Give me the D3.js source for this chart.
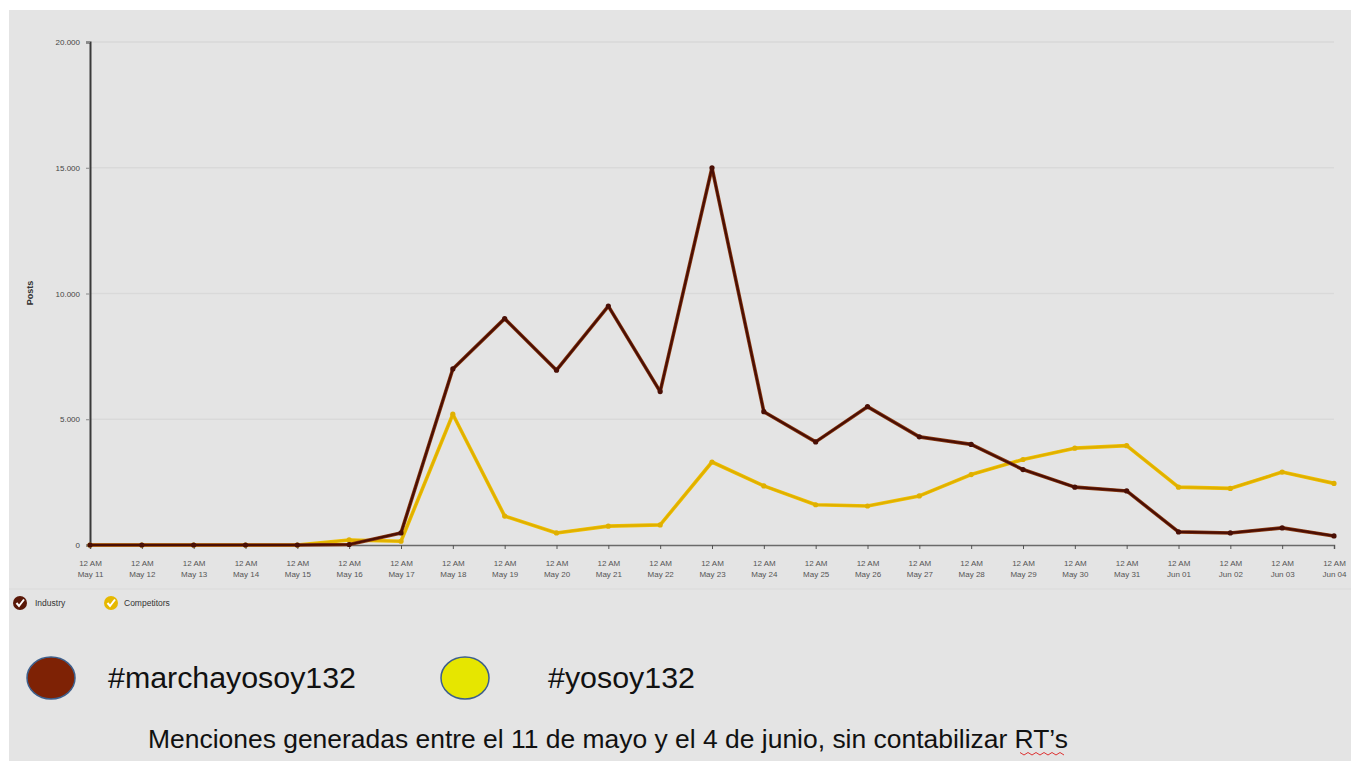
<!DOCTYPE html>
<html><head><meta charset="utf-8">
<script src="https://cdn.jsdelivr.net/npm/d3@7"></script>
<style>body{margin:0;background:#fff}svg{display:block}</style>
</head><body><svg id="c" width="1351" height="761"></svg>
<script>
const days = ["May 11","May 12","May 13","May 14","May 15","May 16","May 17","May 18","May 19","May 20","May 21","May 22","May 23","May 24","May 25","May 26","May 27","May 28","May 29","May 30","May 31","Jun 01","Jun 02","Jun 03","Jun 04"];
const industry = [0,0,0,0,0,20,480,7000,9000,6950,9500,6100,15000,5300,4100,5500,4300,4000,3000,2300,2150,520,480,680,360];
const competitors = [0,0,0,0,0,200,150,5200,1150,480,750,800,3300,2350,1600,1550,1950,2800,3400,3850,3950,2300,2250,2900,2450];
const yTicks = [0,5000,10000,15000,20000];
const yTickLabels = ["0","5.000","10.000","15.000","20.000"];
const seriesNames = ["Industry","Competitors"];
const bigLegend = ["#marchayosoy132","#yosoy132"];
const caption = "Menciones generadas entre el 11 de mayo y el 4 de junio, sin contabilizar ";

const svg = d3.select("#c");
svg.append("rect").attr("x",9).attr("y",10).attr("width",1342).attr("height",751).attr("fill","#e4e4e4");

const x = d3.scalePoint().domain(days).range([90,1334]);
const y = d3.scaleLinear().domain([0,20000]).range([545,42]);

// grid
svg.append("g").selectAll("line").data(yTicks.slice(1)).join("line")
  .attr("x1",90).attr("x2",1334).attr("y1",d=>y(d)).attr("y2",d=>y(d))
  .attr("stroke","#d9d9d9").attr("stroke-width",1.5);

// y axis
const ya = svg.append("g").attr("transform","translate(90,0)")
  .call(d3.axisLeft(y).tickValues(yTicks).tickFormat((d,i)=>yTickLabels[i]).tickSize(4).tickPadding(6));
ya.select(".domain").attr("stroke","#3a3a3a").attr("stroke-width",2);
ya.selectAll(".tick line").attr("stroke","#888");
ya.selectAll("text").attr("font-family","Liberation Sans, Arial").attr("font-size",8).attr("fill","#444");

svg.append("text").attr("transform","translate(33,293) rotate(-90)").attr("text-anchor","middle")
  .attr("font-family","Liberation Sans, Arial").attr("font-size",9).attr("font-weight","bold").attr("fill","#333").text("Posts");

// x axis
const xa = svg.append("g").attr("transform","translate(0,545)")
  .call(d3.axisBottom(x).tickSize(4).tickFormat(""));
xa.select(".domain").attr("stroke","#6a6a6a").attr("stroke-width",1.5);
xa.selectAll(".tick line").attr("stroke","#555");
const xl = xa.selectAll(".tick").append("text").attr("font-family","Liberation Sans, Arial").attr("font-size",8)
  .attr("fill","#555").attr("text-anchor","middle");
xl.append("tspan").attr("x",0).attr("y",21).text("12 AM");
xl.append("tspan").attr("x",0).attr("y",32).text(d=>d);

// separator
svg.append("line").attr("x1",9).attr("x2",1351).attr("y1",589).attr("y2",589).attr("stroke","#dedede").attr("stroke-width",1.5);

const line = d3.line().x((d,i)=>x(days[i])).y(d=>y(d));
function drawSeries(data, glow, core){
  svg.append("path").datum(data).attr("d",line).attr("fill","none").attr("stroke",glow).attr("stroke-width",3.6).attr("stroke-linejoin","round");
  svg.append("path").datum(data).attr("d",line).attr("fill","none").attr("stroke",core).attr("stroke-width",2.2).attr("stroke-linejoin","round");
  svg.append("g").selectAll("circle").data(data).join("circle")
    .attr("cx",(d,i)=>x(days[i])).attr("cy",d=>y(d)).attr("r",2.6).attr("fill",core);
}
drawSeries(competitors,"#f0c000","#e0b000");
drawSeries(industry,"#8a3a10","#4a0f05");

// small legend
const sl = [{cx:20,fill:"#5a1808",tx:35},{cx:111,fill:"#e6b800",tx:124}];
sl.forEach((s,i)=>{
  svg.append("circle").attr("cx",s.cx).attr("cy",603).attr("r",7).attr("fill",s.fill);
  svg.append("path").attr("d",`M${s.cx-3.5},603 L${s.cx-1},606 L${s.cx+4},599.5`).attr("fill","none").attr("stroke","#fff").attr("stroke-width",2);
  svg.append("text").attr("x",s.tx).attr("y",606).attr("font-family","Liberation Sans, Arial").attr("font-size",8.5).attr("fill","#333").text(seriesNames[i]);
});

// big legend
const bl = [{cx:51,fill:"#7e2205",tx:108,w:248},{cx:465,fill:"#e6e600",tx:548,w:147}];
bl.forEach((s,i)=>{
  svg.append("ellipse").attr("cx",s.cx).attr("cy",678).attr("rx",24).attr("ry",21).attr("fill",s.fill)
    .attr("stroke","#3d5f8c").attr("stroke-width",1.5);
  svg.append("text").attr("x",s.tx).attr("y",688).attr("font-family","Liberation Sans, Arial").attr("font-size",30)
    .attr("textLength",s.w).attr("lengthAdjust","spacingAndGlyphs").attr("fill","#111").text(bigLegend[i]);
});

const cap = svg.append("text").attr("x",148).attr("y",748).attr("font-family","Liberation Sans, Arial").attr("font-size",25)
  .attr("textLength",920).attr("lengthAdjust","spacingAndGlyphs").attr("fill","#111");
cap.append("tspan").text(caption);
cap.append("tspan").text("RT’s");
// spell-check squiggle under RT's
const sq = d3.range(1020,1068,4).map((xx,i)=>[xx, i%2?755:752.5]);
svg.append("path").attr("d",d3.line()(sq)).attr("fill","none").attr("stroke","#d33").attr("stroke-width",1);
</script></body></html>
